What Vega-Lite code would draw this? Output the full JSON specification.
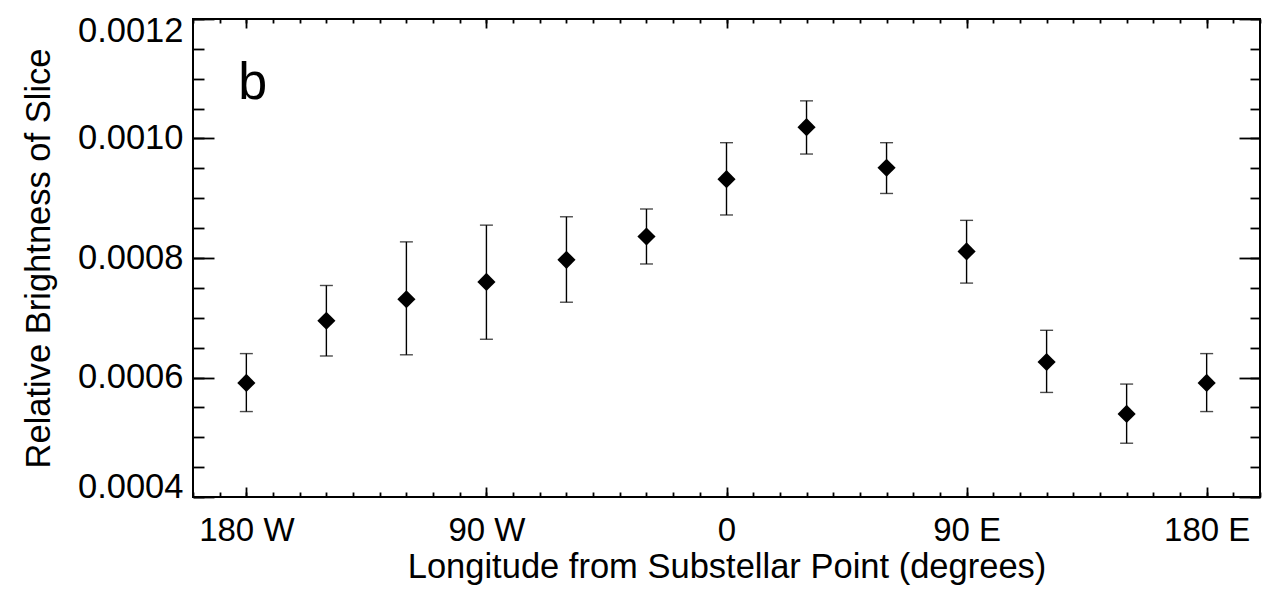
{
  "$schema": "https://vega.github.io/schema/vega-lite/v6.json",
  "width": 1067,
  "height": 478,
  "autosize": {"type": "none"},
  "padding": {"left": 193, "top": 19, "right": 28, "bottom": 96},
  "background": "white",
  "config": {
    "view": {"stroke": "black", "strokeWidth": 2},
    "font": "Liberation Sans",
    "axis": {"domain": false, "grid": false, "tickColor": "black", "tickWidth": 1.8, "labelColor": "black", "titleColor": "black", "labelFont": "Liberation Sans", "titleFont": "Liberation Sans", "labelFontWeight": "normal", "titleFontWeight": "normal"}
  },
  "data": {
    "values": [
      {"lon": -180, "val": 0.000591, "lo": 0.000543, "hi": 0.000640},
      {"lon": -150, "val": 0.000695, "lo": 0.000636, "hi": 0.000754},
      {"lon": -120, "val": 0.000731, "lo": 0.000638, "hi": 0.000827},
      {"lon": -90, "val": 0.000760, "lo": 0.000664, "hi": 0.000855},
      {"lon": -60, "val": 0.000797, "lo": 0.000726, "hi": 0.000869},
      {"lon": -30, "val": 0.000836, "lo": 0.000790, "hi": 0.000882},
      {"lon": 0, "val": 0.000932, "lo": 0.000872, "hi": 0.000993},
      {"lon": 30, "val": 0.001019, "lo": 0.000974, "hi": 0.001063},
      {"lon": 60, "val": 0.000951, "lo": 0.000908, "hi": 0.000993},
      {"lon": 90, "val": 0.000811, "lo": 0.000758, "hi": 0.000863},
      {"lon": 120, "val": 0.000626, "lo": 0.000575, "hi": 0.000679},
      {"lon": 150, "val": 0.000539, "lo": 0.000490, "hi": 0.000589},
      {"lon": 180, "val": 0.000591, "lo": 0.000543, "hi": 0.000640}
    ]
  },
  "resolve": {"axis": {"x": "independent", "y": "independent"}},
  "layer": [
    {
      "mark": {"type": "rule", "color": "black", "strokeWidth": 1.4},
      "encoding": {
        "x": {"field": "lon", "type": "quantitative", "scale": {"domain": [-200, 200], "nice": false, "zero": false},
          "axis": {"orient": "bottom", "values": [-180, -90, 0, 90, 180], "tickSize": -10, "labelFontSize": 33, "labelPadding": 27, "labelExpr": "datum.value < 0 ? abs(datum.value) + ' W' : (datum.value > 0 ? datum.value + ' E' : '0')", "title": "Longitude from Substellar Point (degrees)", "titleFontSize": 34.5, "titlePadding": 3}},
        "y": {"field": "lo", "type": "quantitative", "scale": {"domain": [0.0004, 0.0012], "nice": false, "zero": false},
          "axis": {"orient": "left", "values": [0.0004, 0.0006, 0.0008, 0.0010, 0.0012], "tickSize": -21, "format": ".4f", "labelFontSize": 34.5, "labelPadding": 31,
            "labelBaseline": {"condition": [{"test": "datum.value > 0.00119", "value": "top"}, {"test": "datum.value < 0.00041", "value": "alphabetic"}], "value": "middle"},
            "labelOffset": {"condition": {"test": "datum.value > 0.00119", "value": -5}, "value": 0},
            "title": "Relative Brightness of Slice", "titleFontSize": 34.5, "titlePadding": 21}},
        "y2": {"field": "hi"}
      }
    },
    {
      "mark": {"type": "tick", "color": "black", "size": 13, "thickness": 1.4, "orient": "horizontal"},
      "encoding": {
        "x": {"field": "lon", "type": "quantitative",
          "axis": {"orient": "bottom", "values": [-200, -190, -180, -170, -160, -150, -140, -130, -120, -110, -100, -90, -80, -70, -60, -50, -40, -30, -20, -10, 0, 10, 20, 30, 40, 50, 60, 70, 80, 90, 100, 110, 120, 130, 140, 150, 160, 170, 180, 190, 200], "tickSize": -5, "labels": false, "title": null}},
        "y": {"field": "lo", "type": "quantitative",
          "axis": {"orient": "left", "values": [0.0004, 0.00045, 0.0005, 0.00055, 0.0006, 0.00065, 0.0007, 0.00075, 0.0008, 0.00085, 0.0009, 0.00095, 0.001, 0.00105, 0.0011, 0.00115, 0.0012], "tickSize": -11, "labels": false, "title": null}}
      }
    },
    {
      "mark": {"type": "tick", "color": "black", "size": 13, "thickness": 1.4, "orient": "horizontal"},
      "encoding": {
        "x": {"field": "lon", "type": "quantitative",
          "axis": {"orient": "top", "values": [-180, -90, 0, 90, 180], "tickSize": -9, "labels": false, "title": null}},
        "y": {"field": "hi", "type": "quantitative",
          "axis": {"orient": "right", "values": [0.0004, 0.0006, 0.0008, 0.0010, 0.0012], "tickSize": -21, "labels": false, "title": null}}
      }
    },
    {
      "mark": {"type": "point", "shape": "diamond", "filled": true, "color": "black", "size": 330, "opacity": 1},
      "encoding": {
        "x": {"field": "lon", "type": "quantitative",
          "axis": {"orient": "top", "values": [-200, -190, -180, -170, -160, -150, -140, -130, -120, -110, -100, -90, -80, -70, -60, -50, -40, -30, -20, -10, 0, 10, 20, 30, 40, 50, 60, 70, 80, 90, 100, 110, 120, 130, 140, 150, 160, 170, 180, 190, 200], "tickSize": -4, "labels": false, "title": null}},
        "y": {"field": "val", "type": "quantitative",
          "axis": {"orient": "right", "values": [0.0004, 0.00045, 0.0005, 0.00055, 0.0006, 0.00065, 0.0007, 0.00075, 0.0008, 0.00085, 0.0009, 0.00095, 0.001, 0.00105, 0.0011, 0.00115, 0.0012], "tickSize": -10, "labels": false, "title": null}}
      }
    },
    {
      "data": {"values": [{"lon": -183, "val": 0.001066, "label": "b"}]},
      "mark": {"type": "text", "fontSize": 52, "align": "left", "baseline": "alphabetic", "color": "black", "font": "Liberation Sans"},
      "encoding": {
        "x": {"field": "lon", "type": "quantitative", "axis": null},
        "y": {"field": "val", "type": "quantitative", "axis": null},
        "text": {"field": "label"}
      }
    }
  ]
}
